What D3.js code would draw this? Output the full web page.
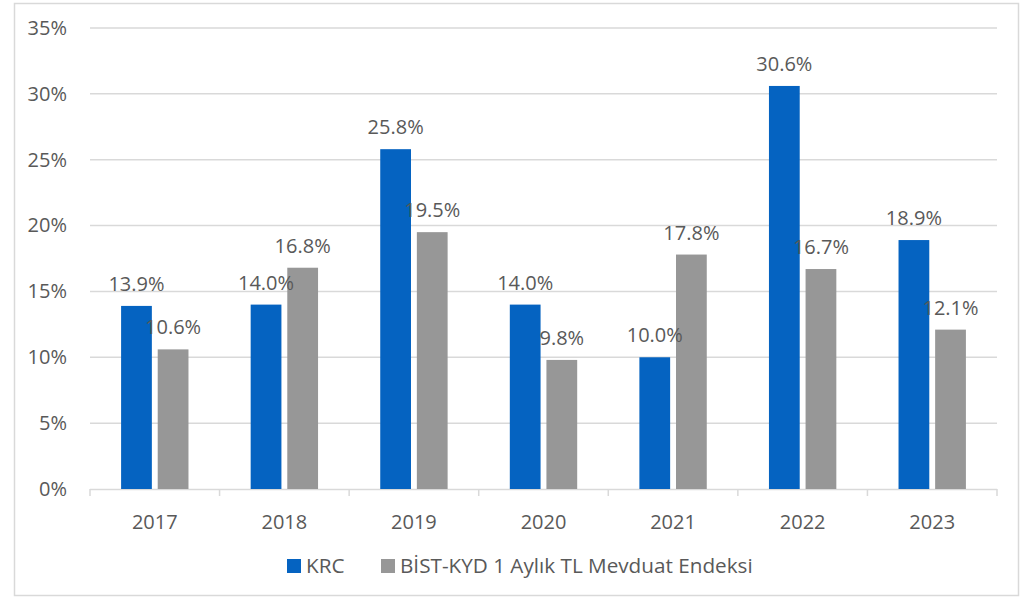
<!DOCTYPE html>
<html>
<head>
<meta charset="utf-8">
<script src="https://cdn.jsdelivr.net/npm/d3@7"></script>
<style>
  body { margin: 0; background: #fff; }
  svg text { font-family: "Open Sans", sans-serif; fill: #595959; }
</style>
</head>
<body>
<svg id="chart" width="1036" height="598"></svg>
<script>
const years = ["2017", "2018", "2019", "2020", "2021", "2022", "2023"];
const seriesNames = ["KRC", "BİST-KYD 1 Aylık TL Mevduat Endeksi"];
const krc = [13.9, 14.0, 25.8, 14.0, 10.0, 30.6, 18.9];
const bist = [10.6, 16.8, 19.5, 9.8, 17.8, 16.7, 12.1];
const yTicks = [0, 5, 10, 15, 20, 25, 30, 35];
const colors = ["#0563c1", "#979797"];

const margin = { left: 90, right: 39, top: 28, bottom: 109 };
const W = 1036, H = 598;
const width = W - margin.left - margin.right;
const height = H - margin.top - margin.bottom;

const svg = d3.select("#chart");

// outer frame
svg.append("rect")
  .attr("x", 14.5).attr("y", 3.5)
  .attr("width", 1004).attr("height", 592)
  .attr("fill", "none").attr("stroke", "#d9d9d9").attr("stroke-width", 1.5);

const g = svg.append("g").attr("transform", `translate(${margin.left},${margin.top})`);

const y = d3.scaleLinear().domain([0, 35]).range([height, 0]);
const x0 = d3.scaleBand().domain(years).range([0, width]);
const bw = x0.bandwidth();
const x1 = d3.scaleBand().domain(seriesNames).range([bw * 0.24, bw * 0.76]).paddingInner(0.16);

// grid lines
g.selectAll(".grid")
  .data(yTicks.slice(1))
  .join("line")
  .attr("x1", 0).attr("x2", width)
  .attr("y1", d => y(d)).attr("y2", d => y(d))
  .attr("stroke", "#d9d9d9").attr("stroke-width", 1.5);

// y axis labels
const yAxis = d3.axisLeft(y).tickValues(yTicks).tickFormat(d => d + "%").tickSize(0).tickPadding(23);
g.append("g").call(yAxis)
  .call(a => a.select(".domain").remove())
  .selectAll("text")
  .style("font-size", "20px").attr("fill", "#595959");

// x axis: line with ticks at band boundaries
const xa = g.append("g").attr("transform", `translate(0,${height})`);
xa.append("line").attr("x1", 0).attr("x2", width).attr("y1", 0.5).attr("y2", 0.5)
  .attr("stroke", "#d9d9d9").attr("stroke-width", 1.5);
xa.selectAll(".tk")
  .data(years.concat([null]))
  .join("line")
  .attr("x1", (d, i) => i * x0.step()).attr("x2", (d, i) => i * x0.step())
  .attr("y1", 0).attr("y2", 7)
  .attr("stroke", "#d9d9d9").attr("stroke-width", 1.5);
xa.selectAll(".yl")
  .data(years)
  .join("text")
  .attr("x", d => x0(d) + bw / 2)
  .attr("y", 40)
  .attr("text-anchor", "middle")
  .style("font-size", "20px")
  .text(d => d);

// bars
const rows = years.map((yr, i) => ({ year: yr, vals: [krc[i], bist[i]] }));
const groups = g.selectAll(".grp").data(rows).join("g")
  .attr("transform", d => `translate(${x0(d.year)},0)`);

groups.selectAll("rect")
  .data(d => d.vals.map((v, k) => ({ name: seriesNames[k], v, k })))
  .join("rect")
  .attr("x", d => x1(d.name))
  .attr("y", d => y(d.v))
  .attr("width", x1.bandwidth())
  .attr("height", d => height - y(d.v))
  .attr("fill", d => colors[d.k]);

groups.selectAll(".lbl")
  .data(d => d.vals.map((v, k) => ({ name: seriesNames[k], v, k })))
  .join("text")
  .attr("x", d => x1(d.name) + x1.bandwidth() / 2)
  .attr("y", d => y(d.v) - 15)
  .attr("text-anchor", "middle")
  .style("font-size", "20px")
  .attr("fill", "#404040")
  .text(d => d.v.toFixed(1) + "%");

// legend
const legend = svg.append("g").attr("transform", "translate(287,566)");
const legX = [0, 94];
seriesNames.forEach((name, k) => {
  legend.append("rect")
    .attr("x", legX[k]).attr("y", -7)
    .attr("width", 14).attr("height", 14)
    .attr("fill", colors[k]);
  legend.append("text")
    .attr("x", legX[k] + 19).attr("y", 0)
    .attr("dy", "0.35em")
    .style("font-size", "20.7px")
    .text(name);
});
</script>
</body>
</html>
